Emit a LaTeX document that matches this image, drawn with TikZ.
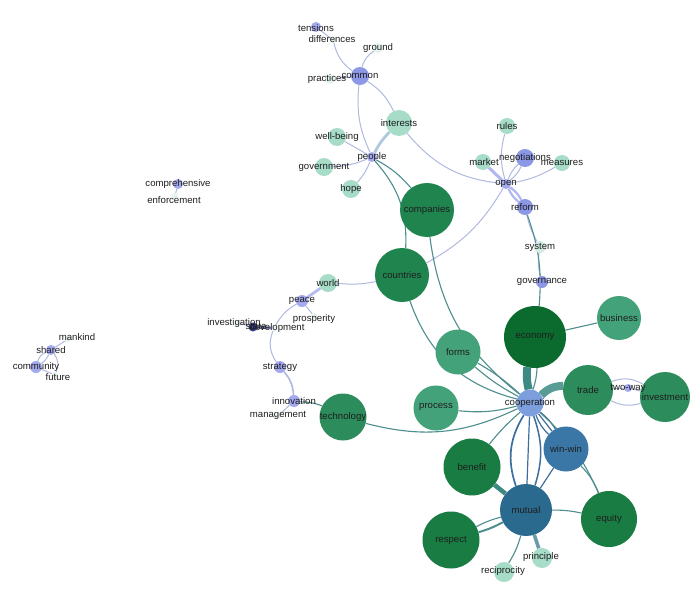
\documentclass[tikz,border=0pt]{standalone}
\usepackage{fontspec}
\setmainfont{Liberation Sans}
\pgfdeclarelayer{bg}\pgfdeclarelayer{fg}
\pgfsetlayers{bg,main,fg}
\definecolor{mint}{HTML}{A6DCC8}
\definecolor{faint}{HTML}{E4F3EE}
\definecolor{pale}{HTML}{D3EDE4}
\definecolor{pb}{HTML}{A4AAEE}
\definecolor{pbd}{HTML}{8C97E5}
\definecolor{navy}{HTML}{3E419C}
\definecolor{coopc}{HTML}{7D9EDC}
\definecolor{winc}{HTML}{3B77A6}
\definecolor{mutc}{HTML}{2A6A8E}
\definecolor{ecoc}{HTML}{0B6B2E}
\definecolor{dg}{HTML}{197C43}
\definecolor{cg}{HTML}{20844F}
\definecolor{tg}{HTML}{2C8C5B}
\definecolor{lg}{HTML}{44A27A}
\definecolor{lav}{HTML}{B2B9E0}
\definecolor{lavt}{HTML}{AFC8DE}
\definecolor{tealE}{HTML}{4E8E8E}
\definecolor{thick}{HTML}{3C8A82}
\definecolor{blueE}{HTML}{3D6E9C}
\definecolor{labc}{HTML}{1E1E1E}
\begin{document}
\begin{tikzpicture}[x=1pt,y=-1pt,
  nd/.style={circle,inner sep=0pt,minimum size=#1,draw=none},
  lbl/.style={inner sep=0pt,font=\fontsize{9.6}{11}\selectfont,text=labc},
  le/.style={draw=lav,line width=1pt},
  te/.style={draw=tealE,line width=1.1pt},
  be/.style={draw=blueE,line width=1.2pt}]
\begin{pgfonlayer}{bg}
\fill[white] (0,0) rectangle (700,591);
\end{pgfonlayer}
\useasboundingbox (0,0) rectangle (700,591);
% nodes
\node[nd=10,fill=pb] (tensions) at (316,27) {};
\node[nd=6,fill=faint] (differences) at (333,40) {};
\node[nd=10,fill=faint] (ground) at (378,48) {};
\node[nd=18,fill=pbd] (common) at (360,76) {};
\node[nd=10,fill=faint] (practices) at (330,79) {};
\node[nd=26,fill=mint] (interests) at (399,123) {};
\node[nd=18,fill=mint] (wellbeing) at (337,137) {};
\node[nd=10,fill=pb] (people) at (372,157) {};
\node[nd=18,fill=mint] (government) at (324,167) {};
\node[nd=18,fill=mint] (hope) at (351,189) {};
\node[nd=16,fill=mint] (rules) at (507,126) {};
\node[nd=18,fill=pbd] (negotiations) at (525,158) {};
\node[nd=16,fill=mint] (market) at (483,162) {};
\node[nd=16,fill=mint] (measures) at (562,163) {};
\node[nd=10,fill=pb] (open) at (506,184) {};
\node[nd=16,fill=pbd] (reform) at (525,207) {};
\node[nd=12,fill=pale] (system) at (540,247) {};
\node[nd=12,fill=pbd] (governance) at (542,282) {};
\node[nd=10,fill=pb] (comprehensive) at (178,184) {};
\node[nd=6,fill=faint] (enforcement) at (175,196) {};
\node[nd=54,fill=cg] (companies) at (427,210) {};
\node[nd=54,fill=cg] (countries) at (402,275) {};
\node[nd=18,fill=mint] (world) at (328,283) {};
\node[nd=12,fill=pb] (peace) at (302,301) {};
\node[nd=6,fill=faint] (prosperity) at (314,316) {};
\node[nd=6,fill=faint] (investigation) at (238,323) {};
\node[nd=9,fill=navy] (state) at (253,327) {};
\node[nd=6,fill=faint] (development) at (274,328) {};
\node[nd=12,fill=pb] (strategy) at (280,367) {};
\node[nd=12,fill=pb] (innovation) at (294,401) {};
\node[nd=6,fill=faint] (management) at (278,416) {};
\node[nd=47,fill=tg] (technology) at (343,417) {};
\node[nd=10,fill=pb] (shared) at (51,350) {};
\node[nd=6,fill=faint] (mankind) at (68,339) {};
\node[nd=12,fill=pb] (community) at (36,367) {};
\node[nd=6,fill=faint] (future) at (55,375) {};
\node[nd=45,fill=lg] (forms) at (458,352) {};
\node[nd=62,fill=ecoc] (economy) at (535,337) {};
\node[nd=44,fill=lg] (business) at (619,318) {};
\node[nd=50,fill=tg] (trade) at (588,390) {};
\node[nd=8,fill=pb] (twoway) at (628,388) {};
\node[nd=50,fill=tg] (investment) at (665,397) {};
\node[nd=45,fill=lg] (process) at (436,408) {};
\node[nd=27,fill=coopc] (cooperation) at (530,403) {};
\node[nd=45,fill=winc] (winwin) at (566,449) {};
\node[nd=57,fill=dg] (benefit) at (472,467) {};
\node[nd=52,fill=mutc] (mutual) at (526,510) {};
\node[nd=56,fill=dg] (equity) at (609,519) {};
\node[nd=57,fill=dg] (respect) at (451,540) {};
\node[nd=20,fill=mint] (principle) at (542,558) {};
\node[nd=20,fill=mint] (reciprocity) at (504,572) {};
% edges
\begin{pgfonlayer}{bg}
\draw[le] (differences) to[bend right=20] (common);
\draw[le] (tensions) -- (differences);
\draw[le] (ground) to[bend right=20] (common);
\draw[le] (practices) -- (common);
\draw[le] (common) to[bend right=15] (people);
\draw[le] (common) to[bend left=15] (interests);
\draw[draw=lavt,line width=2.8pt] (interests) to[bend right=8] (people);
\draw[le] (interests) to[bend right=22] (open);
\draw[le] (wellbeing) -- (people);
\draw[le] (government) to[bend right=10] (people);
\draw[le] (hope) to[bend right=10] (people);
\draw[te] (people) to[bend left=10] (companies);
\draw[te] (people) to[bend left=22] (countries);
\draw[le] (countries) to[bend left=8] (world);
\draw[le] (countries) to[bend right=15] (open);
\draw[draw=pb!80,line width=2.8pt] (world) -- (peace);
\draw[le] (peace) -- (prosperity);
\draw[le] (peace) to[bend right=15] (development);
\draw[draw=navy!70,line width=2.5pt] (state) -- (development);
\draw[le] (investigation) -- (state);
\draw[le] (development) to[bend right=28] (strategy);
\draw[draw=lav,line width=1.6pt] (strategy) to[bend left=18] (innovation);
\draw[le] (innovation) -- (management);
\draw[te] (innovation) to[bend left=10] (technology);
\draw[le] (shared) -- (mankind);
\draw[le] (shared) to[bend right=25] (community);
\draw[le] (shared) to[bend left=15] (community);
\draw[le] (shared) to[bend left=30] (future);
\draw[le] (community) -- (future);
\draw[le] (comprehensive) -- (enforcement);
\draw[le] (open) to[bend left=15] (rules);
\draw[draw=pb!85,line width=3pt] (market) -- (open);
\draw[le] (open) to[bend left=12] (negotiations);
\draw[le] (open) to[bend right=12] (negotiations);
\draw[le] (open) to[bend right=10] (measures);
\draw[draw=pb!85,line width=2.2pt] (open) to[bend left=12] (reform);
\draw[draw=pb!85,line width=2.2pt] (open) to[bend right=12] (reform);
\draw[le] (reform) to[bend right=8] (system);
\draw[le] (system) to[bend right=12] (governance);
\draw[te] (reform) to[bend left=12] (economy);
\draw[te] (companies) to[bend right=22] (cooperation);
\draw[te] (countries) to[bend right=28] (cooperation);
\draw[te] (forms) to[bend left=6] (cooperation);
\draw[te] (forms) to[bend right=6] (cooperation);
\draw[te] (process) to[bend right=10] (cooperation);
\draw[te] (technology) to[bend right=20] (cooperation);
\draw[draw=thick,line width=8pt] (economy) to[bend right=10] (cooperation);
\draw[te] (economy) to[bend left=8] (cooperation);
\draw[draw=thick!85,line width=8pt] (trade) to[bend right=22] (cooperation);
\draw[te] (business) -- (economy);
\draw[le] (trade) -- (twoway);
\draw[le] (twoway) -- (investment);
\draw[le] (trade) to[bend left=25] (investment);
\draw[le] (trade) to[bend right=20] (investment);
\draw[be] (cooperation) to[bend left=10] (winwin);
\draw[be] (cooperation) -- (winwin);
\draw[be] (cooperation) to[bend right=12] (winwin);
\draw[be,line width=1.7pt] (cooperation) to[bend right=25] (mutual);
\draw[be,line width=1.5pt] (cooperation) to[bend left=18] (mutual);
\draw[be] (cooperation) -- (mutual);
\draw[te] (cooperation) to[bend right=5] (benefit);
\draw[te] (cooperation) to[bend left=12] (equity);
\draw[te] (winwin) to[bend left=10] (equity);
\draw[be] (winwin) -- (mutual);
\draw[te] (mutual) to[bend left=6] (equity);
\draw[draw=thick,line width=4.5pt] (benefit) -- (mutual);
\draw[te] (respect) to[bend left=6] (mutual);
\draw[draw=tealE,line width=2pt] (respect) to[bend right=6] (mutual);
\draw[draw=tealE!60!blueE!80,line width=3.5pt] (mutual) -- (principle);
\draw[te] (mutual) to[bend left=8] (reciprocity);
\end{pgfonlayer}
% labels
\begin{pgfonlayer}{fg}
\node[lbl] (t-tensions) at (316,28) {tensions};
\node[lbl] (t-differences) at (332,39) {differences};
\node[lbl] (t-ground) at (378,48) {ground};
\node[lbl] (t-common) at (360,76) {common};
\node[lbl] (t-practices) at (327,79) {practices};
\node[lbl] (t-interests) at (399,123) {interests};
\node[lbl] (t-wellbeing) at (337,137) {well-being};
\node[lbl] (t-people) at (372,157) {people};
\node[lbl] (t-government) at (324,167) {government};
\node[lbl] (t-hope) at (351,189) {hope};
\node[lbl] (t-rules) at (507,126) {rules};
\node[lbl] (t-negotiations) at (525,158) {negotiations};
\node[lbl] (t-market) at (484,162) {market};
\node[lbl] (t-measures) at (562,163) {measures};
\node[lbl] (t-open) at (506,184) {open};
\node[lbl] (t-reform) at (525,207) {reform};
\node[lbl] (t-system) at (540,247) {system};
\node[lbl] (t-governance) at (542,282) {governance};
\node[lbl] (t-comprehensive) at (178,184) {comprehensive};
\node[lbl] (t-enforcement) at (174,200) {enforcement};
\node[lbl] (t-companies) at (427,210) {companies};
\node[lbl] (t-countries) at (402,275) {countries};
\node[lbl] (t-world) at (328,283) {world};
\node[lbl] (t-peace) at (302,301) {peace};
\node[lbl] (t-prosperity) at (314,319) {prosperity};
\node[lbl] (t-investigation) at (234,323) {investigation};
\node[lbl] (t-state) at (256,326) {state};
\node[lbl] (t-development) at (277,328) {development};
\node[lbl] (t-strategy) at (280,367) {strategy};
\node[lbl] (t-innovation) at (294,401) {innovation};
\node[lbl] (t-management) at (278,415) {management};
\node[lbl] (t-technology) at (343,417) {technology};
\node[lbl] (t-shared) at (51,350) {shared};
\node[lbl] (t-mankind) at (77,337) {mankind};
\node[lbl] (t-community) at (36,367) {community};
\node[lbl] (t-future) at (58,377) {future};
\node[lbl] (t-forms) at (458,352) {forms};
\node[lbl] (t-economy) at (535,337) {economy};
\node[lbl] (t-business) at (619,318) {business};
\node[lbl] (t-trade) at (588,390) {trade};
\node[lbl] (t-twoway) at (628,388) {two-way};
\node[lbl] (t-investment) at (665,397) {investment};
\node[lbl] (t-process) at (436,407) {process};
\node[lbl] (t-cooperation) at (530,403) {cooperation};
\node[lbl] (t-winwin) at (566,449) {win-win};
\node[lbl] (t-benefit) at (472,467) {benefit};
\node[lbl] (t-mutual) at (526,510) {mutual};
\node[lbl] (t-equity) at (609,519) {equity};
\node[lbl] (t-respect) at (451,540) {respect};
\node[lbl] (t-principle) at (541,557) {principle};
\node[lbl] (t-reciprocity) at (503,571) {reciprocity};
\end{pgfonlayer}
\end{tikzpicture}
\end{document}
